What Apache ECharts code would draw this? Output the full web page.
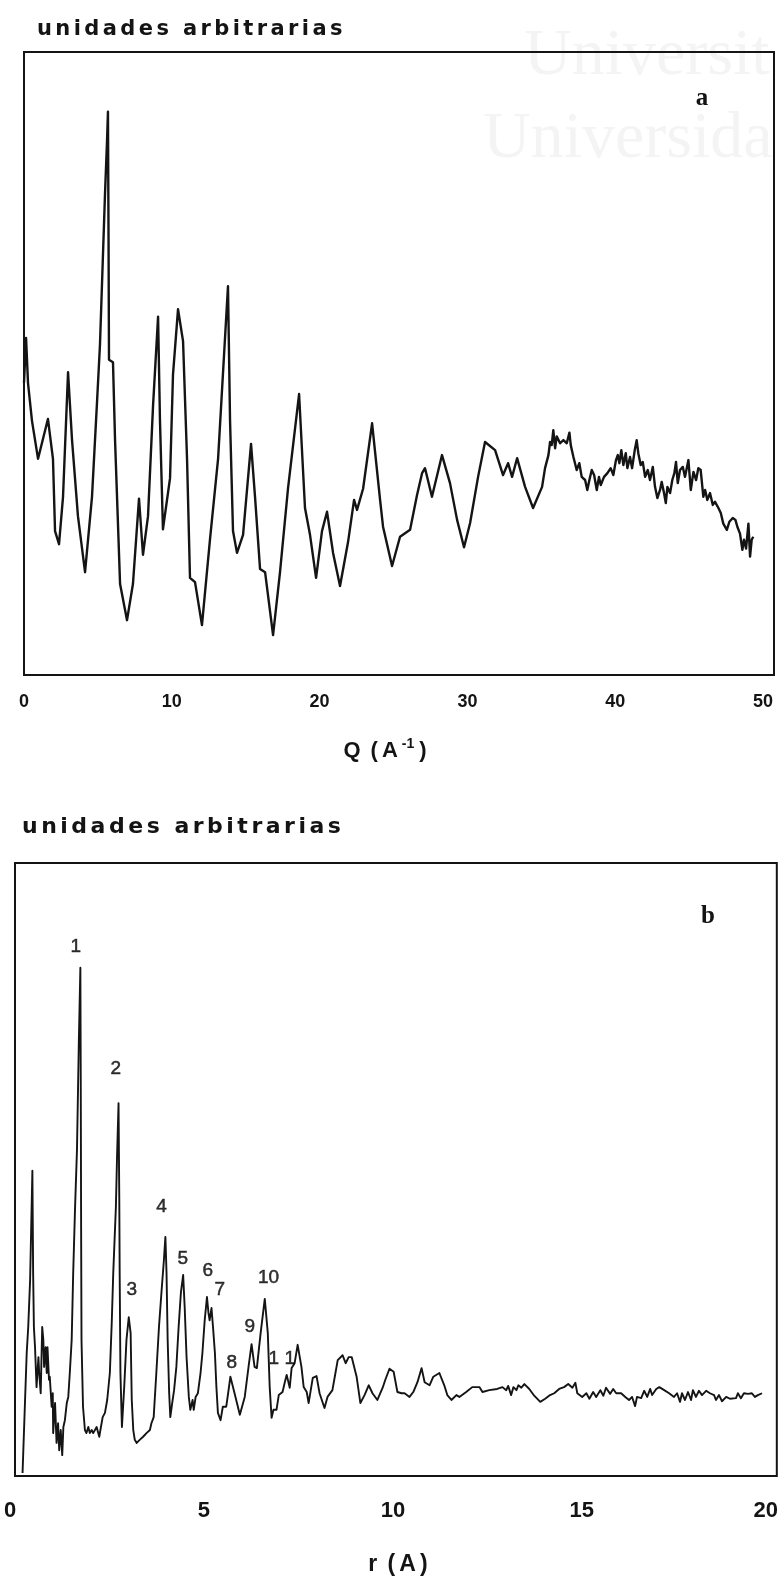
<!DOCTYPE html>
<html>
<head>
<meta charset="utf-8">
<title>S(Q) y G(r)</title>
<script src="https://cdn.jsdelivr.net/npm/echarts@6.0.0/dist/echarts.min.js"></script>
<style>
  html, body { margin: 0; padding: 0; background: #ffffff; }
  #wrap { position: relative; width: 781px; height: 1580px; overflow: hidden; }
  #chart { position: absolute; left: 0; top: 0; width: 781px; height: 1580px; }
  .ytitle { position: absolute; margin: 0; font-family: "DejaVu Sans", sans-serif; font-weight: bold;
            color: #141414; white-space: nowrap; line-height: 1; }
</style>
</head>
<body>
<div id="wrap">
  <div id="chart"></div>
  <div class="ytitle" style="left:37px; top:18px; font-size:21px; letter-spacing:3.4px;">unidades arbitrarias</div>
  <div class="ytitle" style="left:22px; top:815px; font-size:22px; letter-spacing:3.5px;">unidades arbitrarias</div>
</div>
<script>
// Panel a: structure factor, Q (1/A) vs intensity (arbitrary units, 0-100 frame)
const sqCurve = [
  [0.00,46.9],[0.14,54.1],[0.27,46.9],[0.54,40.8],[0.95,34.7],[1.62,41.1],[1.96,34.7],[2.10,23.1],[2.37,21.0],[2.64,28.6],
  [2.98,48.6],[3.25,37.7],[3.65,25.5],[4.13,16.5],[4.60,28.6],[4.94,43.8],[5.14,53.0],[5.48,77.2],[5.62,85.9],[5.68,90.4],
  [5.72,69.8],[5.75,50.6],[6.02,50.2],[6.16,37.7],[6.50,14.6],[6.97,8.8],[7.37,14.6],[7.78,28.3],[8.05,19.3],[8.39,25.5],
  [8.73,43.2],[9.07,57.5],[9.20,40.8],[9.40,23.4],[9.88,31.6],[10.08,48.2],[10.42,58.7],[10.76,53.6],[11.03,34.7],[11.23,15.6],
  [11.57,14.9],[12.04,8.0],[12.58,21.7],[13.13,34.7],[13.80,62.4],[13.94,40.8],[14.14,23.1],[14.41,19.6],[14.82,22.5],[15.36,37.1],
  [15.63,28.6],[15.97,17.0],[16.31,16.5],[16.85,6.4],[17.32,16.5],[17.86,29.9],[18.61,45.1],[19.01,26.8],[19.35,22.5],[19.76,15.6],
  [20.16,23.1],[20.50,26.2],[20.91,19.6],[21.38,14.3],[21.92,21.3],[22.33,28.1],[22.53,26.5],[22.94,29.9],[23.55,40.4],[24.09,28.1],
  [24.29,23.8],[24.90,17.5],[25.44,22.2],[26.12,23.3],[26.59,28.9],[26.93,32.4],[27.13,33.2],[27.60,28.6],[28.28,35.3],[28.82,30.8],
  [29.30,24.9],[29.77,20.5],[30.18,24.4],[30.72,31.8],[31.19,37.4],[31.87,36.1],[32.41,32.1],[32.75,34.0],[33.02,31.8],[33.36,34.8],
  [33.90,30.2],[34.44,26.8],[35.05,30.2],[35.25,33.2],[35.48,35.3],[35.59,37.4],[35.70,36.9],[35.81,39.3],[35.93,36.4],[36.04,38.3],
  [36.27,37.2],[36.49,37.7],[36.72,37.2],[36.90,38.9],[36.99,36.9],[37.17,35.0],[37.39,32.9],[37.57,34.0],[37.73,31.8],[37.96,31.3],
  [38.11,29.7],[38.25,31.3],[38.41,32.9],[38.57,32.1],[38.75,29.7],[38.90,31.8],[39.02,30.5],[39.24,31.8],[39.47,32.4],[39.69,33.2],
  [39.87,32.1],[40.05,34.5],[40.17,35.3],[40.28,34.0],[40.41,36.1],[40.55,33.7],[40.71,35.6],[40.82,33.2],[41.00,35.0],[41.14,33.2],
  [41.32,36.1],[41.45,37.7],[41.56,35.6],[41.72,33.7],[41.86,34.2],[42.02,31.8],[42.20,32.9],[42.35,31.3],[42.54,33.4],[42.69,30.2],
  [42.85,28.4],[43.03,29.7],[43.14,31.0],[43.30,29.2],[43.42,27.6],[43.53,30.2],[43.71,29.2],[43.86,31.3],[44.00,32.4],[44.11,34.2],
  [44.23,30.8],[44.38,32.9],[44.57,33.4],[44.72,31.8],[44.95,34.5],[45.11,29.7],[45.29,32.6],[45.47,31.3],[45.62,33.2],[45.78,32.9],
  [45.96,28.6],[46.08,29.7],[46.23,28.1],[46.41,29.2],[46.60,27.3],[46.75,27.8],[46.98,26.8],[47.14,26.0],[47.31,24.3],[47.55,23.3],
  [47.72,24.6],[47.95,25.2],[48.13,24.9],[48.26,23.8],[48.44,22.7],[48.60,20.1],[48.71,21.7],[48.85,20.3],[49.01,24.3],[49.12,19.0],
  [49.23,21.7],[49.34,22.2]
];

// Panel b: radial distribution, r (A) vs intensity (arbitrary units, 0-100 frame)
const grCurve = [
  [0.20,0.5],[0.26,11.3],[0.31,20.1],[0.35,24.3],[0.40,32.0],[0.46,49.8],[0.48,33.1],[0.50,24.3],[0.53,21.0],[0.57,14.5],
  [0.62,19.4],[0.64,16.8],[0.68,13.5],[0.72,24.3],[0.75,22.2],[0.77,17.8],[0.81,21.0],[0.84,16.8],[0.86,21.0],[0.90,15.7],
  [0.92,16.2],[0.97,11.3],[1.00,13.5],[1.01,7.0],[1.06,11.9],[1.10,5.4],[1.14,8.6],[1.17,4.2],[1.21,7.5],[1.25,3.4],
  [1.28,8.0],[1.32,9.1],[1.37,11.9],[1.41,12.9],[1.45,16.8],[1.50,22.2],[1.54,33.1],[1.59,43.9],
  [1.64,53.2],[1.69,71.1],[1.73,82.9],[1.74,64.6],[1.75,40.1],[1.76,22.2],[1.80,11.3],[1.85,7.5],[1.89,7.0],[1.94,8.0],
  [1.98,7.0],[2.03,7.5],[2.07,7.0],[2.16,8.0],[2.23,6.4],[2.26,7.5],[2.32,9.6],[2.38,10.3],[2.44,12.4],[2.51,16.8],
  [2.56,25.0],[2.60,33.1],[2.67,43.9],[2.70,52.0],[2.74,60.8],[2.76,45.0],[2.77,33.1],[2.79,16.8],[2.83,8.0],[2.89,14.5],
  [2.95,22.2],[3.01,25.9],[3.06,23.3],[3.09,12.4],[3.13,7.5],[3.17,5.9],[3.22,5.4],[3.30,5.9],[3.39,6.4],[3.48,7.0],
  [3.57,7.5],[3.61,8.6],[3.67,9.6],[3.74,16.8],[3.81,24.3],[3.88,30.3],[3.94,35.2],[3.98,39.0],[4.01,33.1],[4.04,22.2],
  [4.08,13.5],[4.11,9.6],[4.16,11.9],[4.21,14.0],[4.27,17.8],[4.33,24.3],[4.39,29.9],[4.45,32.8],[4.49,27.6],[4.54,19.4],
  [4.60,12.9],[4.64,10.8],[4.70,12.4],[4.73,10.8],[4.78,12.9],[4.84,13.5],[4.91,16.8],[4.96,20.1],[5.02,25.4],[5.08,29.2],
  [5.12,26.6],[5.15,25.4],[5.20,27.4],[5.24,24.3],[5.29,20.1],[5.33,14.5],[5.37,10.3],[5.44,9.1],[5.50,11.3],[5.59,11.3],
  [5.64,13.5],[5.70,16.2],[5.81,13.5],[5.95,10.0],[6.08,12.9],[6.18,17.8],[6.26,21.5],[6.34,17.8],[6.40,17.6],[6.50,23.3],
  [6.61,28.9],[6.69,23.3],[6.74,14.5],[6.79,9.5],[6.84,10.8],[6.92,10.8],[6.98,13.2],[7.08,13.7],[7.14,15.3],[7.19,16.5],
  [7.27,14.4],[7.32,17.6],[7.40,18.4],[7.48,21.4],[7.58,17.8],[7.64,14.5],[7.72,13.7],[7.77,11.9],[7.88,16.0],[7.93,15.7],
  [7.98,16.3],[8.06,13.5],[8.19,11.1],[8.27,12.9],[8.40,14.0],[8.48,16.8],[8.54,18.9],[8.67,19.7],[8.75,18.4],[8.83,19.4],
  [8.91,19.4],[9.04,16.2],[9.14,11.9],[9.25,13.2],[9.36,14.8],[9.46,13.5],[9.59,12.4],[9.73,14.4],[9.80,15.7],[9.91,17.5],
  [10.02,17.0],[10.12,13.7],[10.23,13.5],[10.31,13.5],[10.44,12.9],[10.54,13.7],[10.65,15.3],[10.76,17.6],[10.84,15.3],[10.97,14.8],
  [11.07,16.2],[11.23,16.8],[11.36,14.8],[11.44,13.2],[11.55,12.4],[11.68,13.2],[11.76,12.9],[11.94,13.7],[12.10,14.5],[12.29,14.5],
  [12.37,13.7],[12.55,14.0],[12.76,14.2],[12.90,14.5],[13.00,14.0],[13.05,14.7],[13.13,13.2],[13.19,14.5],[13.27,14.0],[13.32,14.8],
  [13.40,14.4],[13.48,15.0],[13.61,14.2],[13.74,13.1],[13.90,12.1],[14.03,12.6],[14.16,13.2],[14.27,13.5],[14.40,14.2],[14.53,14.5],
  [14.64,15.0],[14.75,14.4],[14.83,15.2],[14.88,13.5],[15.01,12.9],[15.12,13.5],[15.20,12.6],[15.30,13.7],[15.38,12.9],[15.49,14.0],
  [15.57,13.1],[15.64,14.4],[15.75,13.4],[15.83,14.2],[15.91,13.5],[16.04,13.5],[16.15,12.9],[16.25,12.4],[16.33,12.9],[16.41,11.4],
  [16.46,12.9],[16.57,12.7],[16.65,13.9],[16.73,12.9],[16.81,14.2],[16.86,13.2],[16.97,14.2],[17.05,14.5],[17.18,14.0],[17.31,13.5],
  [17.44,12.9],[17.52,13.5],[17.60,12.1],[17.65,13.5],[17.73,12.4],[17.81,13.7],[17.89,12.4],[17.94,14.0],[18.02,12.9],[18.10,13.9],
  [18.18,13.2],[18.29,13.9],[18.39,13.5],[18.50,13.2],[18.55,12.4],[18.63,13.2],[18.71,12.2],[18.82,12.9],[18.92,12.6],[18.97,12.9],
  [19.08,12.7],[19.13,13.5],[19.21,12.7],[19.29,13.5],[19.40,13.4],[19.50,13.5],[19.58,12.9],[19.66,13.2],[19.77,13.5]
];

// Peak numbering in panel b: label text and where it sits (r, intensity)
const peakNames = ['1', '2', '3', '4', '5', '6', '7', '8', '9', '10', '1 1'];
const peakLabelR = [1.61, 2.67, 3.09, 3.88, 4.44, 5.10, 5.42, 5.74, 6.21, 6.71, 7.06];
const peakLabelG = [86.3, 66.4, 30.3, 43.9, 35.4, 33.4, 30.3, 18.4, 24.3, 32.3, 19.1];

const INK = '#141414';
const SANS = '"Liberation Sans", Arial, sans-serif';
const SERIF = '"Liberation Serif", "Times New Roman", serif';

const chart = echarts.init(document.getElementById('chart'), null, { renderer: 'canvas', width: 781, height: 1580 });

const peakData = peakNames.map((n, i) => ({ name: n, value: [peakLabelR[i], peakLabelG[i]] }));

// spaced glyph tokens for the axis titles
const nameRich = (size) => ({
  c: { fontSize: size, fontWeight: 'bold', fontFamily: SANS, color: INK, padding: [0, 2, 0, 2], lineHeight: size + 6 },
  g: { fontSize: size, fontWeight: 'bold', fontFamily: SANS, color: INK, lineHeight: size + 6 },
  s: { fontSize: 14, fontWeight: 'bold', fontFamily: SANS, color: INK, padding: [0, 3, 0, 2], verticalAlign: 'top', lineHeight: 16 }
});

const option = {
  animation: false,
  backgroundColor: '#ffffff',
  grid: [
    { left: 24, top: 52, width: 750, height: 623, show: true, borderColor: INK, borderWidth: 2, backgroundColor: 'transparent' },
    { left: 15, top: 863, width: 763, height: 613, show: true, borderColor: INK, borderWidth: 2, backgroundColor: 'transparent' }
  ],
  xAxis: [
    {
      gridIndex: 0, type: 'value', min: 0, max: 50.74, interval: 10,
      axisLine: { show: false }, axisTick: { show: false }, splitLine: { show: false },
      axisLabel: {
        margin: 18, fontSize: 18, fontWeight: 'bold', fontFamily: SANS, color: INK,
        formatter: v => (Math.abs(v % 10) < 1e-9 ? String(v) : '')
      },
      name: '{c|Q}{g| }{c|(}{c|A}{s|-1}{c|)}', nameLocation: 'middle', nameGap: 62,
      nameTextStyle: { padding: [0, 28, 0, 0], rich: nameRich(22) }
    },
    {
      gridIndex: 1, type: 'value', min: 0, max: 20.16, interval: 5,
      axisLine: { show: false }, axisTick: { show: false }, splitLine: { show: false },
      axisLabel: {
        margin: 24, fontSize: 22, fontWeight: 'bold', fontFamily: SANS, color: INK,
        formatter: v => {
          if (v === 0) return '{l|0}';
          if (v === 20) return '{l|20}';
          return Math.abs(v % 5) < 1e-9 ? String(v) : '';
        },
        rich: { l: { fontSize: 22, fontWeight: 'bold', fontFamily: SANS, color: INK, padding: [0, 10, 0, 0] } }
      },
      name: '{c|r}{g| }{c|(}{c|A}{c|)}', nameLocation: 'middle', nameGap: 74,
      nameTextStyle: { padding: [0, 0, 0, 4], rich: nameRich(23) }
    }
  ],
  yAxis: [
    { gridIndex: 0, type: 'value', min: 0, max: 100, show: false },
    { gridIndex: 1, type: 'value', min: 0, max: 100, show: false }
  ],
  series: [
    {
      type: 'line', xAxisIndex: 0, yAxisIndex: 0, data: sqCurve,
      symbol: 'none', smooth: false, lineStyle: { color: INK, width: 2.4, join: 'round' }, z: 3
    },
    {
      type: 'line', xAxisIndex: 1, yAxisIndex: 1, data: grCurve,
      symbol: 'none', smooth: false, lineStyle: { color: INK, width: 1.9, join: 'round' }, z: 3
    },
    {
      type: 'scatter', xAxisIndex: 1, yAxisIndex: 1, data: peakData,
      symbol: 'circle', symbolSize: 2, itemStyle: { color: 'rgba(0,0,0,0)' }, silent: true, z: 4,
      label: {
        show: true, position: 'inside', formatter: p => p.name,
        fontSize: 19, fontFamily: SANS, color: '#000000',
        textBorderColor: '#000000', textBorderWidth: 0.5
      }
    }
  ],
  graphic: [
    // faint watermark in the upper right corner
    { type: 'text', x: 524, y: 57, z: -10, silent: true,
      style: { text: 'Universit', font: '66px ' + SERIF, fill: '#f4f4f4', verticalAlign: 'middle' } },
    { type: 'text', x: 483, y: 140, z: -10, silent: true,
      style: { text: 'Universida', font: '66px ' + SERIF, fill: '#f4f4f4', verticalAlign: 'middle' } },
    // panel letters
    { type: 'text', x: 702, y: 99, z: 10,
      style: { text: 'a', font: 'bold 25px ' + SERIF, fill: INK, align: 'center', verticalAlign: 'middle' } },
    { type: 'text', x: 708, y: 917, z: 10,
      style: { text: 'b', font: 'bold 25px ' + SERIF, fill: INK, align: 'center', verticalAlign: 'middle' } }
  ]
};

chart.setOption(option);
</script>
</body>
</html>
